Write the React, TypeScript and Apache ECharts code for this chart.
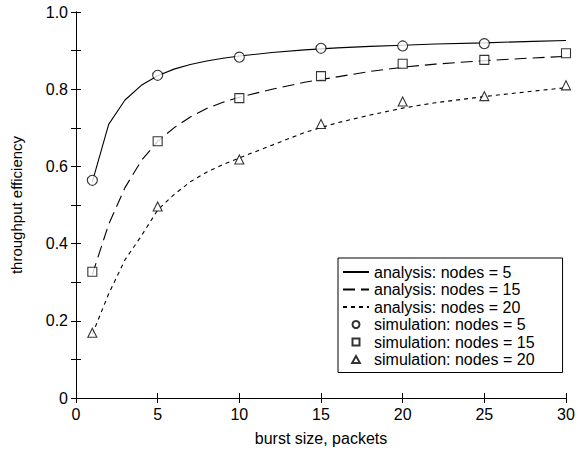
import React, { useEffect, useRef } from "react";
import * as echarts from "echarts";

const analysisX = [1, 2, 3, 4, 5, 6, 7, 8, 9, 10, 12, 14, 16, 18, 20, 22, 25, 28, 30];
const analysis5 = [0.56, 0.709, 0.772, 0.81, 0.835, 0.852, 0.864, 0.873, 0.88, 0.886, 0.895, 0.902, 0.907, 0.911, 0.914, 0.917, 0.92, 0.924, 0.926];
const analysis15 = [0.32, 0.45, 0.545, 0.615, 0.665, 0.7, 0.728, 0.75, 0.766, 0.779, 0.8, 0.818, 0.832, 0.846, 0.857, 0.865, 0.874, 0.881, 0.885];
const analysis20 = [0.165, 0.27, 0.358, 0.42, 0.487, 0.527, 0.56, 0.585, 0.605, 0.622, 0.655, 0.688, 0.713, 0.733, 0.751, 0.765, 0.781, 0.795, 0.804];

const sim5X = [1, 5, 10, 15, 20, 25];
const sim5 = [0.564, 0.836, 0.883, 0.906, 0.912, 0.918];
const simX = [1, 5, 10, 15, 20, 25, 30];
const sim15 = [0.327, 0.665, 0.777, 0.834, 0.866, 0.876, 0.893];
const sim20 = [0.169, 0.496, 0.618, 0.71, 0.768, 0.782, 0.81];

const legendNames = [
  "analysis: nodes = 5",
  "analysis: nodes = 15",
  "analysis: nodes = 20",
  "simulation: nodes = 5",
  "simulation: nodes = 15",
  "simulation: nodes = 20",
];

const FONT = "'Liberation Sans', Arial, Helvetica, sans-serif";

const zip = (xs: number[], ys: number[]) => xs.map((x, i) => [x, ys[i]]);

export default function App() {
  const ref = useRef<HTMLDivElement>(null);
  useEffect(() => {
    document.body.style.margin = "0";
    const chart = echarts.init(ref.current!, null, { renderer: "svg" });
    const axisLine = { show: true, lineStyle: { color: "#000", width: 1 } };
    const tick = { show: true, inside: true, length: 5, lineStyle: { color: "#000", width: 1 } };
    const lineSeries = (name: string, ys: number[], type: any) => ({
      name,
      type: "line",
      data: zip(analysisX, ys),
      symbol: "none",
      smooth: false,
      lineStyle: { color: "#000", width: 1.1, type },
      itemStyle: { color: "#000" },
      z: 2,
    });
    const scatter = (name: string, xs: number[], ys: number[], symbol: string, size: number) => ({
      name,
      type: "scatter",
      data: zip(xs, ys),
      symbol,
      symbolSize: size,
      itemStyle: { color: "#fff", borderColor: "#000", borderWidth: 1.1 },
      z: 3,
    });
    chart.setOption({
      animation: false,
      backgroundColor: "#fff",
      textStyle: { fontFamily: FONT },
      grid: { left: 76, right: 15, top: 12, bottom: 60, containLabel: false },
      xAxis: [
        {
          type: "value",
          min: 0,
          max: 30,
          interval: 5,
          axisLine,
          axisTick: tick,
          splitLine: { show: false },
          axisLabel: { color: "#000", fontSize: 16, margin: 8, fontFamily: FONT },
          name: "burst size, packets",
          nameLocation: "middle",
          nameGap: 32,
          nameTextStyle: { color: "#000", fontSize: 16, fontFamily: FONT },
        },
        {
          type: "value",
          position: "top",
          min: 0,
          max: 30,
          interval: 5,
          axisLine,
          axisTick: tick,
          splitLine: { show: false },
          axisLabel: { show: false },
        },
      ],
      yAxis: [
        {
          type: "value",
          min: 0,
          max: 1,
          interval: 0.1,
          axisLine,
          axisTick: tick,
          splitLine: { show: false },
          axisLabel: {
            color: "#000",
            fontSize: 16,
            margin: 8,
            fontFamily: FONT,
            formatter: (v: number) => {
              const k = Math.round(v * 10);
              if (k === 0) return "0";
              return k % 2 === 0 ? (k / 10).toFixed(1) : "";
            },
          },
          name: "throughput efficiency",
          nameLocation: "middle",
          nameGap: 52,
          nameTextStyle: { color: "#000", fontSize: 15, fontFamily: FONT },
        },
        {
          type: "value",
          position: "right",
          min: 0,
          max: 1,
          interval: 0.1,
          axisLine,
          axisTick: tick,
          splitLine: { show: false },
          axisLabel: { show: false },
        },
      ],
      legend: {
        orient: "vertical",
        left: 338,
        top: 258,
        data: [
          { name: legendNames[0], itemStyle: { opacity: 0 } },
          { name: legendNames[1], itemStyle: { opacity: 0 } },
          { name: legendNames[2], itemStyle: { opacity: 0 } },
          { name: legendNames[3], icon: "circle" },
          { name: legendNames[4], icon: "path://M0,0L10,0L10,10L0,10Z" },
          { name: legendNames[5], icon: "path://M5,0L10,9L0,9Z" },
        ],
        itemWidth: 26,
        itemHeight: 7,
        itemGap: 1.5,
        symbolKeepAspect: true,
        padding: [6, 28, 5, 4],
        borderColor: "#000",
        borderWidth: 1,
        borderRadius: 0,
        backgroundColor: "#fff",
        textStyle: { color: "#000", fontSize: 16, lineHeight: 14, fontFamily: FONT },
        selectedMode: false,
      },
      series: [
        lineSeries(legendNames[0], analysis5, "solid"),
        lineSeries(legendNames[1], analysis15, [12, 6]),
        lineSeries(legendNames[2], analysis20, [4, 4]),
        scatter(legendNames[3], sim5X, sim5, "circle", 10),
        scatter(legendNames[4], simX, sim15, "rect", 9),
        scatter(legendNames[5], simX, sim20, "triangle", 9),
      ],
    });
    return () => chart.dispose();
  }, []);
  return (
    <div
      ref={ref}
      style={{ position: "fixed", left: 0, top: 0, width: 581, height: 458 }}
    />
  );
}
